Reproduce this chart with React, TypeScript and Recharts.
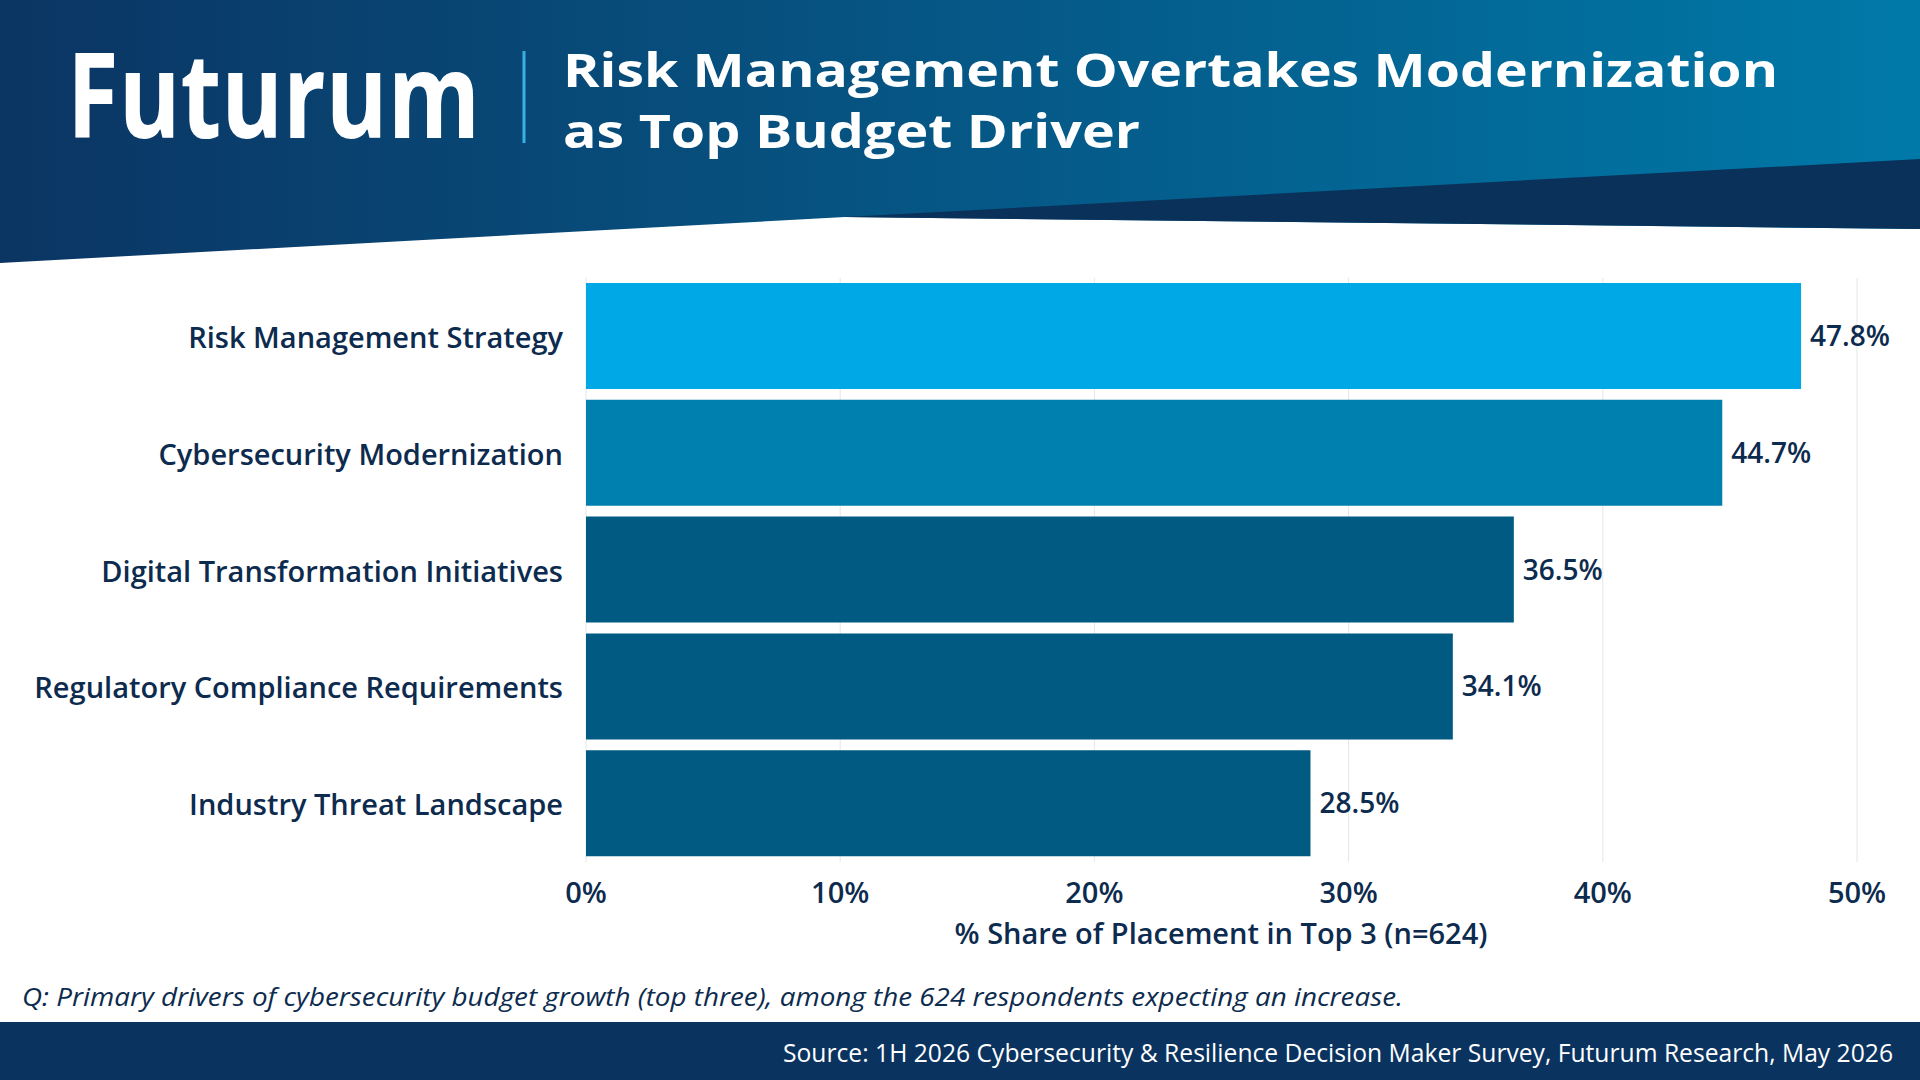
import React from 'react';
import { BarChart, Bar, XAxis, YAxis, CartesianGrid, Cell, LabelList } from 'recharts';

const categories = [
  'Risk Management Strategy',
  'Cybersecurity Modernization',
  'Digital Transformation Initiatives',
  'Regulatory Compliance Requirements',
  'Industry Threat Landscape',
];
const shares = [47.8, 44.7, 36.5, 34.1, 28.5];
const barColors = ['#00a8e6', '#0080ae', '#005a82', '#005a82', '#005a82'];
const xTicks = [0, 10, 20, 30, 40, 50];

const data = categories.map((name, i) => ({ name, value: shares[i] }));

const NAVY = '#0d2b4e';
const FONT = '"Open Sans", sans-serif';

const CategoryTick = (props: any) => {
  const { x = 0, y = 0, payload } = props;
  return (
    <text x={x - 15} y={y} textAnchor="end" dominantBaseline="central"
      fill={NAVY} fontSize={29} fontFamily={FONT} fontWeight={600}>
      {payload.value}
    </text>
  );
};

const App = () => {
  return (
    <div style={{ position: 'fixed', left: 0, top: 0, width: 1920, height: 1080, background: '#fff', overflow: 'hidden', fontFamily: FONT }}>
      <svg width={1920} height={1080} style={{ position: 'absolute', left: 0, top: 0 }}>
        <defs>
          <linearGradient id="hdr" x1="0" y1="0" x2="1" y2="0">
            <stop offset="0" stopColor="#0b3563" />
            <stop offset="1" stopColor="#0079a8" />
          </linearGradient>
        </defs>
        <polygon points="0,0 1920,0 1920,229 845,217 0,263" fill="url(#hdr)" />
        <polygon points="845,217 1920,159 1920,229" fill="#0a3159" />
        <text x={67} y={138} fill="#fff" fontSize={118} fontWeight={700} fontFamily={FONT}
          textLength={413} lengthAdjust="spacingAndGlyphs">Futurum</text>
        <line x1={524} y1={51} x2={524} y2={143} stroke="#3ab0e0" strokeWidth={3} />
        <text x={563} y={87} fill="#fff" fontSize={47} fontWeight={700} fontFamily={FONT}
          textLength={1215} lengthAdjust="spacingAndGlyphs">Risk Management Overtakes Modernization</text>
        <text x={563} y={148} fill="#fff" fontSize={47} fontWeight={700} fontFamily={FONT}
          textLength={577} lengthAdjust="spacingAndGlyphs">as Top Budget Driver</text>
        <text x={1221} y={944} textAnchor="middle" fill={NAVY} fontSize={29} fontWeight={600} fontFamily={FONT}>
          % Share of Placement in Top 3 (n=624)
        </text>
        <text x={22} y={1006} fill={NAVY} fontSize={25} fontStyle="italic" fontFamily={FONT}
          textLength={1381} lengthAdjust="spacingAndGlyphs">
          Q: Primary drivers of cybersecurity budget growth (top three), among the 624 respondents expecting an increase.
        </text>
        <rect x={0} y={1022} width={1920} height={58} fill="#0a3360" />
        <text x={1893} y={1062} textAnchor="end" fill="#fff" fontSize={25} fontFamily={FONT}
          textLength={1110} lengthAdjust="spacingAndGlyphs">
          Source: 1H 2026 Cybersecurity &amp; Resilience Decision Maker Survey, Futurum Research, May 2026
        </text>
      </svg>
      <div style={{ position: 'absolute', left: 0, top: 260 }}>
        <BarChart width={1920} height={681} data={data} layout="vertical"
          margin={{ top: 18, right: 63, bottom: 0, left: 0 }}>
          <CartesianGrid horizontal={false} stroke="#e6e6e6" />
          <XAxis type="number" domain={[0, 50]} ticks={xTicks} height={79}
            axisLine={false} tickLine={false} tickMargin={14} interval={0}
            tickFormatter={(v: number) => `${v}%`}
            tick={{ fill: NAVY, fontSize: 29, fontFamily: FONT, fontWeight: 600 }} />
          <YAxis type="category" dataKey="name" width={586} axisLine={false} tickLine={false}
            tick={<CategoryTick />} />
          <Bar dataKey="value" barSize={106} isAnimationActive={false}>
            {data.map((d, i) => <Cell key={d.name} fill={barColors[i]} />)}
            <LabelList dataKey="value" position="right" offset={9}
              formatter={(v: any) => `${Number(v).toFixed(1)}%`}
              style={{ fill: NAVY, fontSize: 28, fontFamily: FONT, fontWeight: 600 }} />
          </Bar>
        </BarChart>
      </div>
    </div>
  );
};

export default App;
